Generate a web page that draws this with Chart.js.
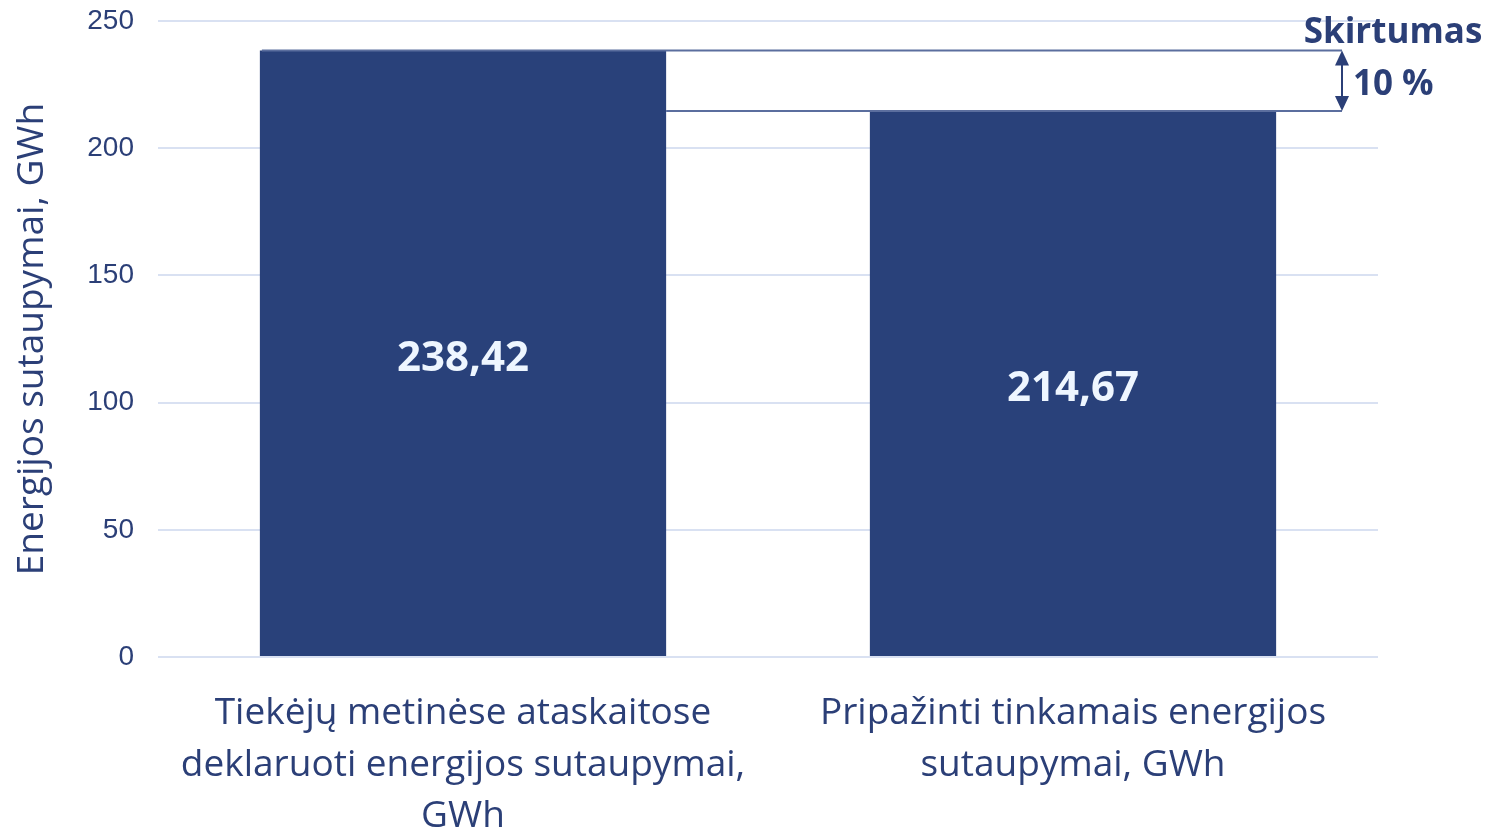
<!DOCTYPE html>
<html>
<head>
<meta charset="utf-8">
<script src="https://cdn.jsdelivr.net/npm/chart.js@4"></script>
<style>
html,body{margin:0;padding:0;background:#fff;}
#wrap{width:1504px;height:831px;position:relative;}
</style>
</head>
<body>
<div id="wrap"><canvas id="c" width="1504" height="831"></canvas></div>
<script>
const categories = [
  ["Tiekėjų metinėse ataskaitose", "deklaruoti energijos sutaupymai,", "GWh"],
  ["Pripažinti tinkamais energijos", "sutaupymai, GWh"]
];
const values = [238.42, 214.67];
const valueLabels = ["238,42", "214,67"];
const yTicks = [0, 50, 100, 150, 200, 250];
const yTitle = "Energijos sutaupymai, GWh";
const diffTitle = "Skirtumas";
const diffLabel = "10 %";

const navy = '#29417a';
const textBlue = '#2b3f77';

const annotPlugin = {
  id: 'annot',
  afterDatasetsDraw(chart) {
    const ctx = chart.ctx;
    const meta = chart.getDatasetMeta(0);
    const y = chart.scales.y;
    const area = chart.chartArea;
    // value labels
    ctx.save();
    ctx.fillStyle = '#eef6ff';
    ctx.font = 'bold 42px "Open Sans"';
    ctx.textAlign = 'center';
    ctx.textBaseline = 'middle';
    meta.data.forEach((bar, i) => {
      const yc = (y.getPixelForValue(values[i]) + y.getPixelForValue(0)) / 2;
      ctx.fillText(valueLabels[i], bar.x, yc + 5);
    });
    ctx.restore();

    // difference annotation
    const b0 = meta.data[0];
    const y0 = y.getPixelForValue(values[0]);
    const y1 = y.getPixelForValue(values[1]);
    const ax = area.right - 36;
    ctx.save();
    ctx.strokeStyle = '#5b6e9e';
    ctx.lineWidth = 2;
    ctx.beginPath();
    ctx.moveTo(b0.x - b0.width / 2 + 2, y0);
    ctx.lineTo(ax, y0);
    ctx.moveTo(b0.x + b0.width / 2, y1);
    ctx.lineTo(ax, y1);
    ctx.stroke();
    ctx.strokeStyle = textBlue;
    ctx.fillStyle = textBlue;
    ctx.beginPath();
    ctx.moveTo(ax, y0 + 10);
    ctx.lineTo(ax, y1 - 10);
    ctx.stroke();
    ctx.beginPath();
    ctx.moveTo(ax, y0);
    ctx.lineTo(ax - 7, y0 + 15);
    ctx.lineTo(ax + 7, y0 + 15);
    ctx.closePath();
    ctx.fill();
    ctx.beginPath();
    ctx.moveTo(ax, y1);
    ctx.lineTo(ax - 7, y1 - 15);
    ctx.lineTo(ax + 7, y1 - 15);
    ctx.closePath();
    ctx.fill();
    ctx.font = 'bold 35px "Open Sans"';
    ctx.textBaseline = 'middle';
    ctx.textAlign = 'center';
    ctx.fillText(diffTitle, ax + 51, y.getPixelForValue(250) + 12);
    ctx.textAlign = 'left';
    ctx.fillText(diffLabel, ax + 11, (y0 + y1) / 2 + 4);
    ctx.restore();
  }
};

new Chart(document.getElementById('c'), {
  type: 'bar',
  data: {
    labels: categories,
    datasets: [{
      data: values,
      backgroundColor: navy,
      borderWidth: 0,
      barPercentage: 0.666,
      categoryPercentage: 1.0
    }]
  },
  options: {
    responsive: false,
    animation: false,
    devicePixelRatio: 1,
    layout: { padding: { left: 0, right: 126, top: 21, bottom: 0 } },
    plugins: { legend: { display: false }, tooltip: { enabled: false } },
    scales: {
      x: {
        grid: { display: false, drawTicks: false },
        border: { display: false },
        ticks: {
          color: textBlue,
          font: { family: '"Open Sans"', size: 37, lineHeight: 1.39 },
          padding: 31,
          maxRotation: 0,
          autoSkip: false
        },
        afterFit(scale) { scale.height = 174; scale.paddingLeft = 0; scale.paddingRight = 0; }
      },
      y: {
        min: 0,
        max: 250,
        afterBuildTicks(scale) { scale.ticks = yTicks.map(v => ({ value: v })); },
        grid: { color: '#d9e1f2', lineWidth: 2, drawTicks: false },
        border: { display: false },
        ticks: {
          color: textBlue,
          font: { family: '"Liberation Sans", Arial', size: 28 },
          padding: 24
        },
        title: {
          display: true,
          text: yTitle,
          color: textBlue,
          font: { family: '"Open Sans"', size: 37 },
          padding: { top: 10, bottom: 0 }
        },
        afterFit(scale) { scale.width = 158; scale.paddingTop = 0; scale.paddingBottom = 0; }
      }
    }
  },
  plugins: [annotPlugin]
});
</script>
</body>
</html>
